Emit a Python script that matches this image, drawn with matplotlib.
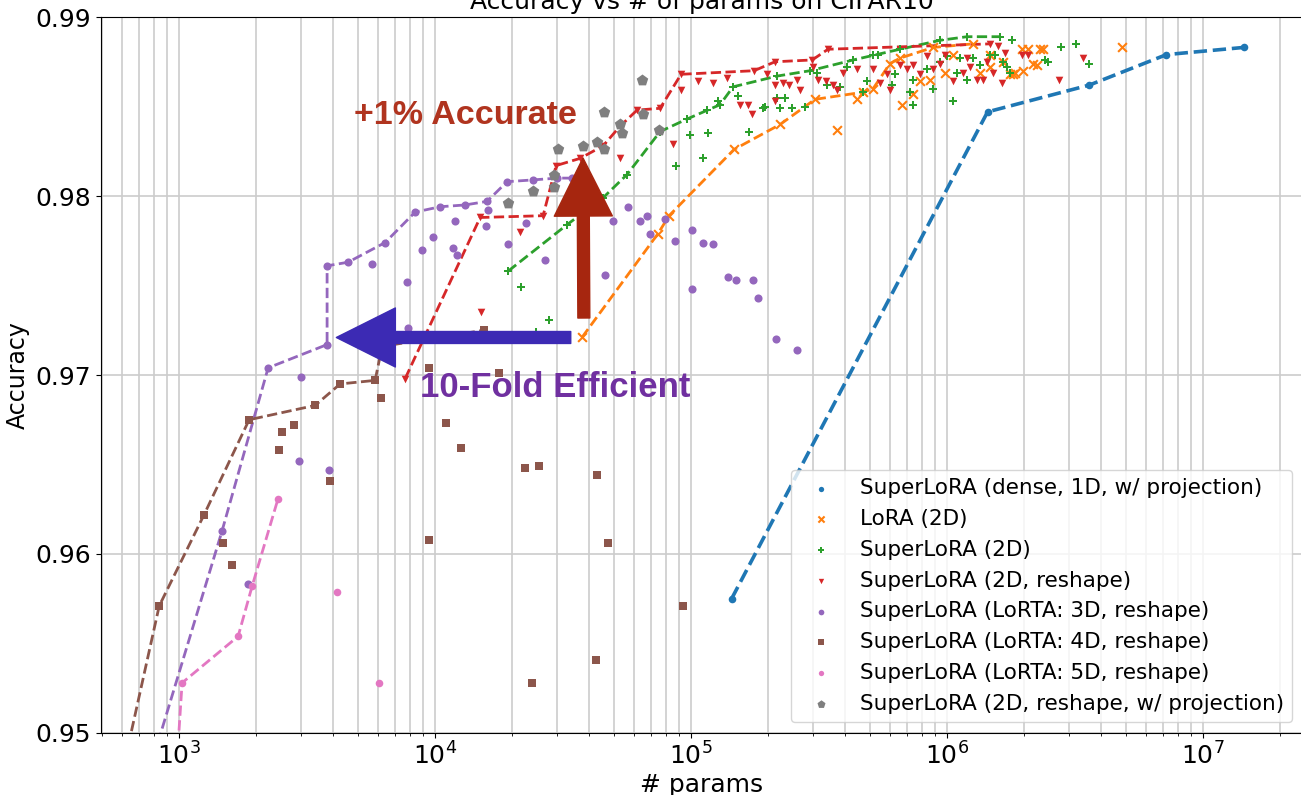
import matplotlib
matplotlib.use('Agg')
import matplotlib.pyplot as plt
from matplotlib.patches import ArrowStyle

# valores (x = # params, y = accuracy)

# SuperLoRA (dense, 1D, w/ projection)
dense_x = [1.44e5, 1.44e6, 3.6e6, 7.2e6, 1.44e7]
dense_y = [0.9575, 0.9847, 0.9862, 0.9879, 0.9883]

# LoRA (2D): frente (linea) y resto de puntos
lora_fx = [37480, 74290, 82050, 147200, 222900, 304800, 469800, 514300, 598400, 654500, 881700, 1264000]
lora_fy = [0.9721, 0.9779, 0.9789, 0.9826, 0.9840, 0.9854, 0.9858, 0.9860, 0.9874, 0.9877, 0.9883, 0.9885]
lora_px = [371500, 444800, 666800, 736500, 858300, 1055000, 1345000, 1472000, 1655000, 1811000, 1472000,
           1763000, 1843000, 1982000, 1963000, 2072000, 2307000, 2371000, 2168000, 2247000, 4826000,
           784300, 982200]
lora_py = [0.9837, 0.9854, 0.9851, 0.9857, 0.9865, 0.9879, 0.9869, 0.9872, 0.9875, 0.9868, 0.9879,
           0.9868, 0.9869, 0.9870, 0.9882, 0.9882, 0.9882, 0.9882, 0.9874, 0.9873, 0.9883,
           0.9864, 0.9869]

# SuperLoRA (2D)
sl2_fx = [19280, 32780, 45290, 56230, 75680, 96400, 129700, 145900, 216700, 291700, 429600, 654500,
          939700, 1197000, 1611000]
sl2_fy = [0.9758, 0.9784, 0.9799, 0.9812, 0.9836, 0.9843, 0.9851, 0.9861, 0.9867, 0.9870, 0.9876, 0.9882,
          0.9887, 0.9889, 0.9889]
sl2_px = [21680, 27860, 24800, 87300, 111400, 99100, 116400, 115500, 127500, 168500, 191000, 152600,
          194500, 222900, 248000, 278800, 216700, 232800, 310500, 339600, 382200, 406400, 469800,
          487000, 514300, 537500, 609600, 626600, 717000, 736500, 736500, 835600, 881700, 939700,
          1000000, 1055000, 1094000, 1124000, 1197000, 1264000, 1345000, 1472000, 1540000, 1655000,
          1715000, 1763000, 1796000, 2415000, 2481000, 2787000, 3192000, 3587000]
sl2_py = [0.9749, 0.9731, 0.9724, 0.9817, 0.9821, 0.9834, 0.9835, 0.9848, 0.9853, 0.9836, 0.9849, 0.9856,
          0.9850, 0.9849, 0.9849, 0.9850, 0.9855, 0.9855, 0.9869, 0.9862, 0.9861, 0.9872, 0.9858,
          0.9864, 0.9879, 0.9879, 0.9862, 0.9868, 0.9858, 0.9851, 0.9865, 0.9871, 0.9860, 0.9875,
          0.9878, 0.9853, 0.9869, 0.9877, 0.9865, 0.9877, 0.9873, 0.9879, 0.9879, 0.9875,
          0.9872, 0.9869, 0.9887, 0.9876, 0.9875, 0.9883, 0.9885, 0.9874]

# SuperLoRA (2D, reshape)
rsh_fx = [7638, 15000, 26420, 29700, 36810, 45290, 52810, 61530, 75680, 91410, 176300, 212800,
          297300, 342800, 1472000]
rsh_fy = [0.9698, 0.9788, 0.9789, 0.9817, 0.9821, 0.9828, 0.9839, 0.9848, 0.9849, 0.9868, 0.9870, 0.9875,
          0.9876, 0.9882, 0.9885]
rsh_px = [15120, 21480, 52810, 85070, 91410, 106400, 121900, 138200, 155300, 167000, 173000, 198200,
          212800, 212800, 228600, 241500, 259400, 266600, 299700, 313500, 336500, 358700, 371500,
          392500, 444800, 514300, 547300, 583000, 598400, 654500, 697600, 736500, 784300, 835600,
          881700, 939700, 982200, 1055000, 1155000, 1197000, 1229000, 1309000, 1382000, 1432000,
          1514000, 1581000, 1640000, 1685000, 1963000, 2072000, 2738000, 3398000]
rsh_py = [0.9735, 0.9780, 0.9821, 0.9829, 0.9859, 0.9864, 0.9863, 0.9866, 0.9851, 0.9851, 0.9846, 0.9868,
          0.9862, 0.9853, 0.9863, 0.9862, 0.9865, 0.9859, 0.9872, 0.9865, 0.9864, 0.9862, 0.9859,
          0.9869, 0.9871, 0.9871, 0.9863, 0.9868, 0.9859, 0.9873, 0.9871, 0.9873, 0.9868, 0.9878,
          0.9871, 0.9874, 0.9879, 0.9864, 0.9869, 0.9877, 0.9872, 0.9865, 0.9865, 0.9875,
          0.9869, 0.9884, 0.9863, 0.9880, 0.9879, 0.9879, 0.9865, 0.9877]

# SuperLoRA (LoRTA: 3D, reshape)
t3_fx = [736, 1472, 2227, 3785, 3785, 4571, 6378, 8356, 10460, 13090, 15960, 19100, 24150, 29990, 34280]
t3_fy = [0.9471, 0.9613, 0.9704, 0.9717, 0.9761, 0.9763, 0.9774, 0.9791, 0.9794, 0.9795, 0.9797, 0.9808,
         0.9809, 0.9810, 0.9810]
t3_px = [2997, 2943, 3853, 1860, 5677, 7775, 7845, 8894, 9820, 11760, 12190, 11970, 15810, 16100, 19280,
         22670, 26900, 46130, 49550, 56750, 63230, 67330, 69180, 79100, 86600, 100900, 100900, 111400,
         121900, 139500, 149900, 174600, 182700, 214800, 259400]
t3_py = [0.9699, 0.9652, 0.9647, 0.9583, 0.9762, 0.9752, 0.9726, 0.9770, 0.9777, 0.9771, 0.9767, 0.9786,
         0.9783, 0.9792, 0.9773, 0.9785, 0.9764, 0.9756, 0.9786, 0.9794, 0.9786, 0.9789, 0.9779, 0.9787,
         0.9775, 0.9781, 0.9748, 0.9774, 0.9773, 0.9755, 0.9753, 0.9753, 0.9743, 0.9720, 0.9714]

# SuperLoRA (LoRTA: 4D, reshape)
t4_fx = [615, 836, 1252, 1877, 3398, 4256, 5830, 6210, 15520]
t4_fy = [0.9485, 0.9571, 0.9622, 0.9675, 0.9683, 0.9695, 0.9697, 0.9716, 0.9725]
t4_px = [2525, 2812, 2459, 3890, 6152, 9476, 11040, 12640, 17780, 22470, 25470, 42960, 1486, 1611, 9476,
         47430, 23930, 42560, 93100]
t4_py = [0.9668, 0.9672, 0.9658, 0.9641, 0.9687, 0.9704, 0.9673, 0.9659, 0.9701, 0.9648, 0.9649, 0.9644,
         0.9606, 0.9594, 0.9608, 0.9606, 0.9528, 0.9541, 0.9571]

# SuperLoRA (LoRTA: 5D, reshape)
t5_fx = [982, 1027, 1700, 1928, 2436]
t5_fy = [0.9485, 0.9528, 0.9554, 0.9582, 0.9631]
t5_px = [4140, 6040]
t5_py = [0.9579, 0.9528]

# SuperLoRA (2D, reshape, w/ projection)
proj_x = [19280, 24150, 29170, 29170, 30230, 37850, 42960, 45730, 45730, 52810, 53730, 64380, 64940, 74990]
proj_y = [0.9796, 0.9803, 0.9805, 0.9812, 0.9826, 0.9828, 0.9830, 0.9826, 0.9847, 0.9840, 0.9835, 0.9865,
          0.9846, 0.9837]

plt.rcParams['font.family'] = 'DejaVu Sans'
fig = plt.figure(figsize=(13.01, 7.95), dpi=100)
ax = fig.add_axes([0.0776, 0.078, 0.924, 0.9006])

# (etiqueta, color, marcador, tamano scatter, frente x, frente y, resto x, resto y)
series = [
    ('SuperLoRA (dense, 1D, w/ projection)', '#1f77b4', 'o', 30, dense_x, dense_y, [], []),
    ('LoRA (2D)', '#ff7f0e', 'x', 40, lora_fx, lora_fy, lora_px, lora_py),
    ('SuperLoRA (2D)', '#2ca02c', 'P', 28, sl2_fx, sl2_fy, sl2_px, sl2_py),
    ('SuperLoRA (2D, reshape)', '#d62728', 'v', 30, rsh_fx, rsh_fy, rsh_px, rsh_py),
    ('SuperLoRA (LoRTA: 3D, reshape)', '#9467bd', 'o', 34, t3_fx, t3_fy, t3_px, t3_py),
    ('SuperLoRA (LoRTA: 4D, reshape)', '#8c564b', 's', 40, t4_fx, t4_fy, t4_px, t4_py),
    ('SuperLoRA (LoRTA: 5D, reshape)', '#e377c2', 'o', 30, t5_fx, t5_fy, t5_px, t5_py),
    ('SuperLoRA (2D, reshape, w/ projection)', '#7f7f7f', 'p', 75, [], [], proj_x, proj_y),
]

for label, color, marker, size, fx, fy, px, py in series:
    if fx:
        lw = 2.6 if color == '#1f77b4' else 2.0
        ax.plot(fx, fy, '--', color=color, lw=lw, zorder=2)
    lws = 1.5 if marker == 'x' else 0
    ax.scatter(list(fx) + list(px), list(fy) + list(py), c=color, marker=marker, s=size,
               linewidths=lws, label=label, zorder=3)

ax.set_xscale('log')
ax.set_xlim(495, 2.46e7)
ax.set_ylim(0.95, 0.99)
ax.set_yticks([0.95, 0.96, 0.97, 0.98, 0.99])
ax.set_yticklabels(['0.95', '0.96', '0.97', '0.98', '0.99'])
ax.tick_params(axis='both', which='major', labelsize=18)
ax.grid(True, which='both', axis='x', color='#cccccc', lw=1.2)
ax.grid(True, which='major', axis='y', color='#cccccc', lw=1.2)
ax.set_axisbelow(True)

ax.set_xlabel('# params', fontsize=18, labelpad=2)
ax.set_ylabel('Accuracy', fontsize=17, labelpad=4)
ax.set_title('Accuracy vs # of params on CIFAR10', fontsize=18)

# flechas y textos de anotacion
ax.annotate('', xy=(0.4010, 0.8031), xytext=(0.4017, 0.5796), xycoords='axes fraction',
            arrowprops=dict(arrowstyle=ArrowStyle.Simple(head_length=41.8, head_width=41.8, tail_width=8.6),
                            mutation_scale=1, color='#a6260f', shrinkA=0, shrinkB=0), zorder=5)
ax.annotate('', xy=(0.1958, 0.5524), xytext=(0.3908, 0.5524), xycoords='axes fraction',
            arrowprops=dict(arrowstyle=ArrowStyle.Simple(head_length=42.5, head_width=42.5, tail_width=8.6),
                            mutation_scale=1, color='#3c2ab4', shrinkA=0, shrinkB=0), zorder=5)
ax.text(0.303, 0.863, '+1% Accurate', transform=ax.transAxes, ha='center', va='center',
        fontsize=24.5, fontweight='bold', family='Liberation Sans', color='#b0341f', zorder=6)
ax.text(0.378, 0.482, '10-Fold Efficient', transform=ax.transAxes, ha='center', va='center',
        fontsize=25, fontweight='bold', family='Liberation Sans', color='#7030a0', zorder=6)

ax.legend(loc='lower right', fontsize=15.5, framealpha=0.8, markerscale=0.7)

fig.savefig('out.png', dpi=100)
